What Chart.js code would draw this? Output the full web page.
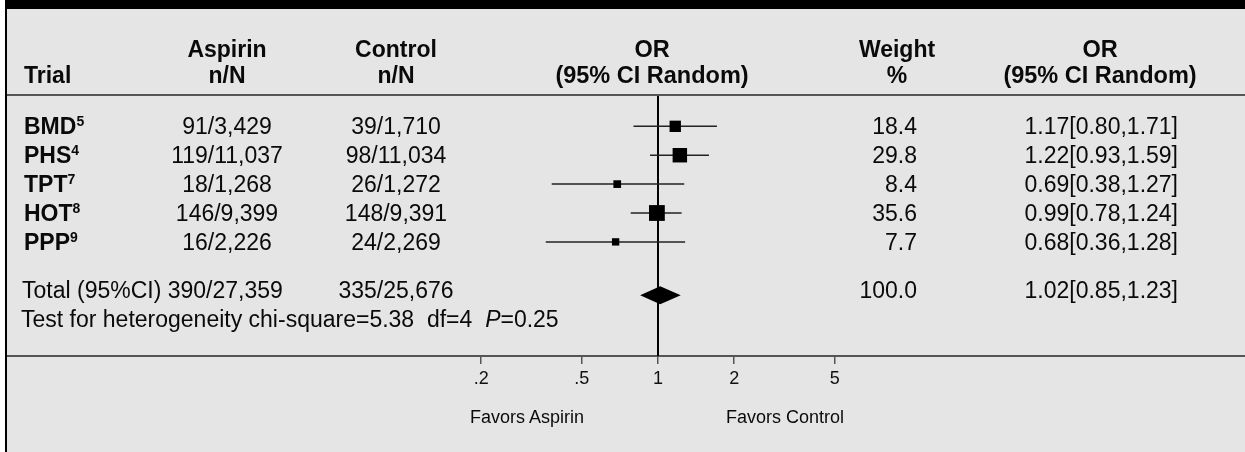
<!DOCTYPE html>
<html>
<head>
<meta charset="utf-8">
<title>Aspirin trials forest plot</title>
<script src="https://cdn.jsdelivr.net/npm/chart.js"></script>
<style>
  body { margin: 0; background: #fff; width: 1245px; height: 452px; overflow: hidden; position: relative; }
  #frame { position: absolute; left: 5px; top: 0; width: 1238px; height: 443px; background: #e5e5e5; border-top: 9px solid #000; border-left: 2px solid #000; }
  #chart { position: absolute; left: 0; top: 0; }
  .t { position: absolute; font-family: "Liberation Sans", Arial, Helvetica, sans-serif; font-size: 23px; line-height: 26px; color: #0a0a0a; white-space: nowrap; }
  .b { font-weight: bold; }
  .h { font-size: 23.5px; }
  .c { transform: translateX(-50%); text-align: center; }
  .r { transform: translateX(-100%); }
  .s { font-size: 18px; line-height: 20px; }
  sup { font-size: 14px; vertical-align: baseline; position: relative; top: -8px; }
</style>
</head>
<body>
<div id="frame"></div>
<canvas id="chart" width="1245" height="452"></canvas>
<div id="text"></div>
<script>
// trial data
const trials = ['BMD', 'PHS', 'TPT', 'HOT', 'PPP'];
const refs = ['5', '4', '7', '8', '9'];
const aspirin = ['91/3,429', '119/11,037', '18/1,268', '146/9,399', '16/2,226'];
const control = ['39/1,710', '98/11,034', '26/1,272', '148/9,391', '24/2,269'];
const weight = [18.4, 29.8, 8.4, 35.6, 7.7];
const oddsRatio = [1.17, 1.22, 0.69, 0.99, 0.68];
const lower = [0.80, 0.93, 0.38, 0.78, 0.36];
const upper = [1.71, 1.59, 1.27, 1.24, 1.28];

// pooled result
const totalAspirin = '390/27,359';
const totalControl = '335/25,676';
const totalWeight = 100.0;
const totalOR = 1.02;
const totalLower = 0.85;
const totalUpper = 1.23;
const heterogeneity = 'Test for heterogeneity chi-square=5.38&nbsp; df=4&nbsp; <i>P</i>=0.25';

// axis
const tickValues = [0.2, 0.5, 1, 2, 5];
const tickLabels = ['.2', '.5', '1', '2', '5'];

// row slots on the y scale
const totalTextRow = 5.65;
const diamondRow = 5.85;
const testRow = 6.68;

const FONT = '"Liberation Sans", Arial, Helvetica, sans-serif';

function fmt(v) { return v.toFixed(2); }

const datasets = [];
datasets.push({
    data: oddsRatio.map((v, i) => ({ x: v, y: i })),
    pointStyle: 'rect',
    pointRadius: weight.map(w => 2.65 * Math.sqrt(w) / 1.414),
    backgroundColor: '#000',
    borderWidth: 0,
    showLine: false
});
for (let i = 0; i < trials.length; i++) {
    datasets.push({
        data: [{ x: lower[i], y: i }, { x: upper[i], y: i }],
        showLine: true,
        borderColor: '#222',
        borderWidth: 1.5,
        pointRadius: 0
    });
}
// no-effect line
datasets.push({
    data: [{ x: 1, y: -1.05 }, { x: 1, y: 7.95 }],
    showLine: true,
    borderColor: '#000',
    borderWidth: 2,
    pointRadius: 0
});

const framePlugin = {
    id: 'frameLines',
    beforeDatasetsDraw(chart) {
        const c = chart.ctx, a = chart.chartArea;
        c.save();
        c.strokeStyle = '#555';
        c.lineWidth = 2;
        c.beginPath();
        c.moveTo(7, a.top - 1); c.lineTo(chart.width, a.top - 1);
        c.moveTo(7, a.bottom); c.lineTo(chart.width, a.bottom);
        c.stroke();
        c.restore();
    }
};

const diamondPlugin = {
    id: 'diamond',
    afterDatasetsDraw(chart) {
        const c = chart.ctx, x = chart.scales.x, y = chart.scales.y;
        const yc = y.getPixelForValue(diamondRow);
        c.save();
        c.fillStyle = '#000';
        c.beginPath();
        c.moveTo(x.getPixelForValue(totalLower), yc);
        c.lineTo(x.getPixelForValue(totalOR), yc - 9);
        c.lineTo(x.getPixelForValue(totalUpper), yc);
        c.lineTo(x.getPixelForValue(totalOR), yc + 9);
        c.closePath();
        c.fill();
        c.restore();
    }
};

const chart = new Chart(document.getElementById('chart'), {
    type: 'scatter',
    data: { datasets: datasets },
    plugins: [framePlugin, diamondPlugin],
    options: {
        responsive: false,
        animation: false,
        layout: { padding: { left: 405, right: 334, top: 96, bottom: 0 } },
        plugins: { legend: { display: false }, tooltip: { enabled: false } },
        scales: {
            x: {
                type: 'logarithmic',
                min: 0.1,
                max: 10,
                afterBuildTicks: s => { s.ticks = tickValues.map(v => ({ value: v })); },
                afterFit: s => { s.height = 96; },
                border: { display: false },
                grid: { drawOnChartArea: false, tickLength: 8, color: '#555', lineWidth: 1.5 },
                ticks: {
                    padding: 4,
                    color: '#111',
                    font: { family: FONT, size: 18 },
                    callback: (v, i) => tickLabels[i]
                }
            },
            y: { type: 'linear', min: -1.05, max: 7.95, reverse: true, display: false }
        }
    }
});

// table text
const box = document.getElementById('text');
function put(html, x, top, cls) {
    const d = document.createElement('div');
    d.className = 't ' + (cls || '');
    d.style.left = x + 'px';
    d.style.top = top + 'px';
    d.innerHTML = html;
    box.appendChild(d);
}
const ys = chart.scales.y;
function rowTop(v) { return ys.getPixelForValue(v) - 13; }

put('Trial', 24, 62, 'b');
put('Aspirin<br>n/N', 227, 36, 'b c');
put('Control<br>n/N', 396, 36, 'b c');
put('OR<br>(95% CI Random)', 652, 36, 'b c h');
put('Weight<br>%', 897, 36, 'b c');
put('OR<br>(95% CI Random)', 1100, 36, 'b c h');

for (let i = 0; i < trials.length; i++) {
    const t = rowTop(i);
    put(trials[i] + '<sup>' + refs[i] + '</sup>', 24, t, 'b');
    put(aspirin[i], 227, t, 'c');
    put(control[i], 396, t, 'c');
    put(weight[i].toFixed(1), 917, t, 'r');
    put(fmt(oddsRatio[i]) + '[' + fmt(lower[i]) + ',' + fmt(upper[i]) + ']', 1178, t, 'r');
}
const tt = rowTop(totalTextRow);
put('Total (95%CI) ' + totalAspirin, 22, tt);
put(totalControl, 396, tt, 'c');
put(totalWeight.toFixed(1), 917, tt, 'r');
put(fmt(totalOR) + '[' + fmt(totalLower) + ',' + fmt(totalUpper) + ']', 1178, tt, 'r');
put(heterogeneity, 21, rowTop(testRow));

put('Favors Aspirin', 527, 407, 'c s');
put('Favors Control', 785, 407, 'c s');
</script>
</body>
</html>
